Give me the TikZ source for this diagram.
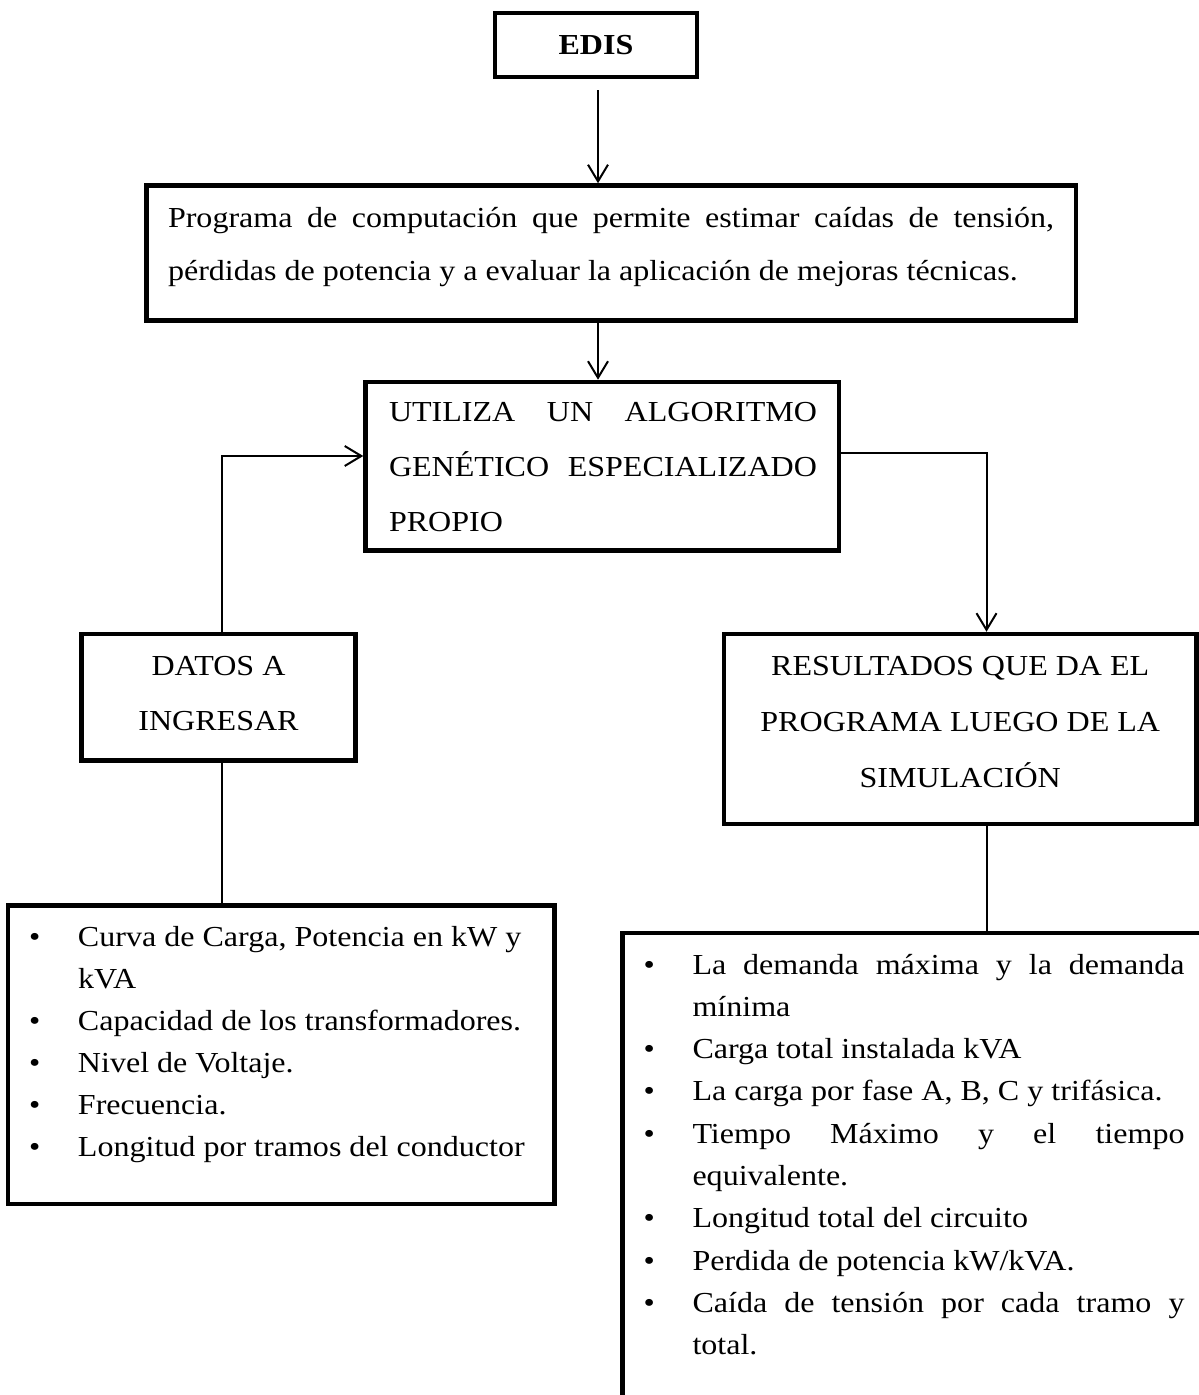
\documentclass[tikz,border=0pt]{standalone}
\usepackage{fontspec}
\setmainfont{Liberation Serif}[FakeStretch=1.105]
\usetikzlibrary{arrows.meta}
\newcommand{\litem}[2]{\par\hangindent=35pt\hangafter=1\noindent\hbox to 35pt{\rule{0pt}{#1}\hskip 10.5pt\textbullet\hfil}#2}
\begin{document}
\begin{tikzpicture}[x=0.5pt,y=-0.5pt,
  box/.style={draw, line width=2.25pt, inner sep=0pt},
  conn/.style={line width=1pt},
  arr/.style={conn, -{Straight Barb[length=8.3pt,width=10pt]}},
  txt/.style={font=\fontsize{14.5pt}{17pt}\selectfont}]
\useasboundingbox (0,0) rectangle (1198,1395);
\fill[white] (0,0) rectangle (1198,1395);

% EDIS
\node[box, txt, minimum width=100.85pt, minimum height=32pt, font=\fontsize{14.5pt}{17pt}\selectfont\bfseries] (edis) at (596,45) {EDIS};

% Program description
\node[box] (prog) at (611.25,253) {\parbox[c][67.5pt][t]{464.75pt}{\fontsize{14.5pt}{26.65pt}\selectfont\lineskiplimit=-100pt\leftskip=10.75pt\rule{0pt}{21pt}\makebox[443pt][s]{Programa de computación que permite estimar caídas de tensión,}\\
pérdidas de potencia y a evaluar la aplicación de mejoras técnicas.}};

% Algorithm
\node[box] (util) at (602.25,466.25) {\parbox[c][84.25pt][t]{236.75pt}{\fontsize{14.5pt}{27.5pt}\selectfont\lineskiplimit=-100pt\leftskip=11.75pt\rule{0pt}{19.85pt}\makebox[214pt][s]{UTILIZA UN ALGORITMO}\\
\makebox[214pt][s]{GENÉTICO ESPECIALIZADO}\\
PROPIO}};

% Input data
\node[box] (datos) at (218.5,697.25) {\parbox[c][63.25pt][t]{137pt}{\fontsize{14.5pt}{27.5pt}\selectfont\lineskiplimit=-100pt\centering\rule{0pt}{20.5pt}DATOS A\\
INGRESAR\par}};

% Results
\node[box] (res) at (960.25,729) {\parbox[c][95pt][t]{236.25pt}{\fontsize{14.5pt}{28pt}\selectfont\lineskiplimit=-100pt\centering\rule{0pt}{20.5pt}RESULTADOS QUE DA EL\\
PROGRAMA LUEGO DE LA\\
SIMULACIÓN\par}};

% Input list
\node[box] (listL) at (281.25,1054.75) {\parbox[c][149.25pt][t]{273.25pt}{\fontsize{14.5pt}{21pt}\selectfont\lineskiplimit=-100pt
\litem{20.6pt}{Curva de Carga, Potencia en kW y\\ kVA}
\litem{0pt}{Capacidad de los transformadores.}
\litem{0pt}{Nivel de Voltaje.}
\litem{0pt}{Frecuencia.}
\litem{0pt}{Longitud por tramos del conductor}\par}};

% Results list
\node[box] (listR) at (926.25,1186.5) {\parbox[c][253.5pt][t]{303.75pt}{\fontsize{14.5pt}{21.15pt}\selectfont\lineskiplimit=-100pt
\litem{20.5pt}{\makebox[246pt][s]{La demanda máxima y la demanda}\\ mínima}
\litem{0pt}{Carga total instalada kVA}
\litem{0pt}{La carga por fase A, B, C y trifásica.}
\litem{0pt}{\makebox[246pt][s]{Tiempo Máximo y el tiempo}\\ equivalente.}
\litem{0pt}{Longitud total del circuito}
\litem{0pt}{Perdida de potencia kW/kVA.}
\litem{0pt}{\makebox[246pt][s]{Caída de tensión por cada tramo y}\\ total.}\par}};

% Connectors
\draw[arr, shorten <=5.4pt] (edis.south -| 598,0) -- (prog.north -| 598,0);
\draw[arr] (prog.south -| 598,0) -- (util.north -| 598,0);
\draw[arr] (datos.north -| 222,0) |- (util.west |- 0,456);
\draw[arr] (util.east |- 0,452.5) -| (res.north -| 986.5,0);
\draw[conn] (datos.south -| 222,0) -- (listL.north -| 222,0);
\draw[conn] (res.south -| 986.5,0) -- (listR.north -| 986.5,0);
\end{tikzpicture}
\end{document}
